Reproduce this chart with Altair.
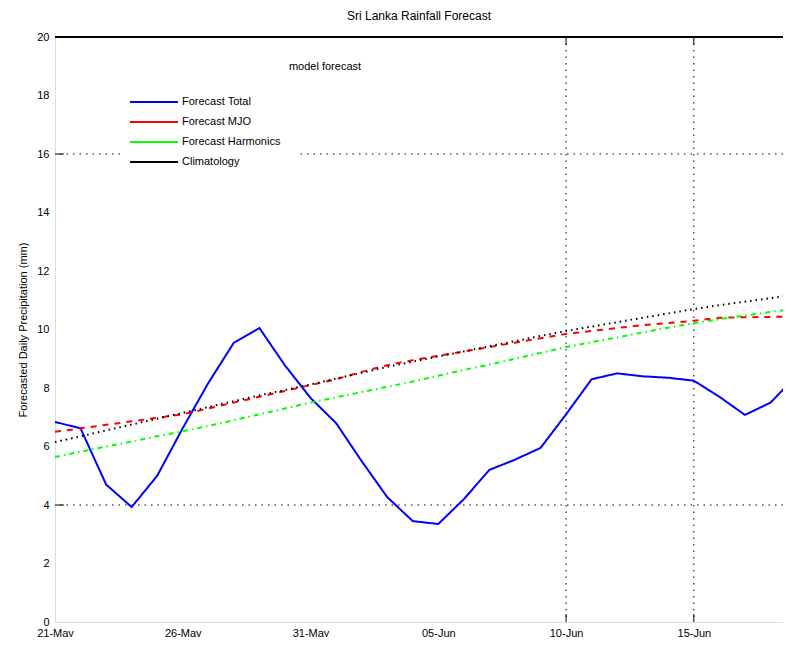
import altair as alt
import pandas as pd

# ---- data ----
dates = pd.date_range("2015-05-21", periods=30).strftime("%Y-%m-%d").tolist()

forecast_total = [6.84, 6.62, 4.70, 3.93, 5.00, 6.63, 8.17, 9.55, 10.05, 8.77,
                  7.66, 6.80, 5.50, 4.27, 3.45, 3.35, 4.20, 5.20, 5.55, 5.95,
                  7.10, 8.30, 8.50, 8.40, 8.35, 8.25, 7.70, 7.08, 7.50, 8.40]
forecast_mjo = [6.50, 6.62, 6.74, 6.86, 6.98, 7.10, 7.30, 7.50, 7.70, 7.90,
                8.10, 8.30, 8.55, 8.78, 8.95, 9.10, 9.25, 9.40, 9.55, 9.70,
                9.85, 9.95, 10.05, 10.15, 10.22, 10.30, 10.40, 10.42, 10.43, 10.45]
forecast_harm = [5.64, 5.82, 6.00, 6.17, 6.35, 6.52, 6.70, 6.90, 7.10, 7.30,
                 7.50, 7.68, 7.86, 8.04, 8.22, 8.42, 8.62, 8.80, 9.00, 9.20,
                 9.40, 9.57, 9.73, 9.90, 10.06, 10.22, 10.35, 10.48, 10.60, 10.72]
climatology = [6.15, 6.35, 6.55, 6.75, 6.95, 7.15, 7.35, 7.55, 7.75, 7.93,
               8.12, 8.32, 8.52, 8.72, 8.90, 9.08, 9.25, 9.43, 9.60, 9.78,
               9.95, 10.10, 10.25, 10.40, 10.55, 10.70, 10.83, 10.95, 11.07, 11.20]

series_names = ["Forecast Total", "Forecast MJO", "Forecast Harmonics", "Climatology"]
series_colors = ["#0000ff", "#ff0000", "#00ff00", "#000000"]
series_dashes = [[1, 0], [6, 6], [5, 4, 1.5, 4], [1.5, 4]]

y_ticks = [0, 2, 4, 6, 8, 10, 12, 14, 16, 18, 20]
x_tick_dates = ["2015-05-21", "2015-05-26", "2015-05-31", "2015-06-05", "2015-06-10", "2015-06-15"]
hgrid_values = [4, 16]
vgrid_dates = ["2015-06-10", "2015-06-15"]
top_value = [20]

FONT = "Liberation Sans"
W, H = 728, 585

rows = []
for name, vals in zip(series_names, [forecast_total, forecast_mjo, forecast_harm, climatology]):
    for d, v in zip(dates, vals):
        rows.append({"date": d, "value": v, "series": name})
df = pd.DataFrame(rows)

x_scale = alt.Scale(
    type="utc",
    domain=[alt.DateTime(year=2015, month=5, date=21, utc=True),
            alt.DateTime(year=2015, month=6, date=18, hours=11, minutes=45, utc=True)],
    nice=False,
)
y_scale = alt.Scale(domain=[0, 20], nice=False, zero=False)
color_scale = alt.Scale(domain=series_names, range=series_colors)
dash_scale = alt.Scale(domain=series_names, range=series_dashes)

lines = alt.Chart(df).mark_line(strokeWidth=2, clip=True).encode(
    x=alt.X("date:T", scale=x_scale,
            axis=alt.Axis(values=[alt.DateTime(year=int(d[:4]), month=int(d[5:7]), date=int(d[8:]), utc=True)
                                  for d in x_tick_dates],
                          labelExpr="utcFormat(datum.value, '%d-%b')",
                          title=None, grid=False, domain=False, tickSize=0,
                          labelFontSize=11, labelPadding=5, labelColor="black",
                          labelFont=FONT, labelFlush=False)),
    y=alt.Y("value:Q", scale=y_scale,
            axis=alt.Axis(values=y_ticks, title="Forecasted Daily Precipitation (mm)",
                          grid=False, domain=False, tickSize=0, labelFontSize=11,
                          labelPadding=6, labelColor="black", labelFont=FONT,
                          titleFont=FONT, titleFontSize=11, titleFontWeight="normal",
                          titleColor="black", titleX=-27, titleY=H / 2)),
    color=alt.Color("series:N", scale=color_scale, legend=None),
    strokeDash=alt.StrokeDash("series:N", scale=dash_scale, legend=None),
    order=alt.Order("series:N"),
)

hgrid = alt.Chart(pd.DataFrame({"v": hgrid_values})).mark_rule(
    color="black", strokeWidth=1, strokeDash=[1.5, 5]
).encode(y=alt.Y("v:Q", scale=y_scale))

left_ticks = alt.Chart(pd.DataFrame({"v": hgrid_values})).mark_rule(
    color="black", strokeWidth=1
).encode(y=alt.Y("v:Q", scale=y_scale), x=alt.value(0), x2=alt.value(9))

vgrid = alt.Chart(pd.DataFrame({"d": vgrid_dates})).mark_rule(
    color="black", strokeWidth=1, strokeDash=[1.5, 5]
).encode(x=alt.X("d:T", scale=x_scale))

top_ticks = alt.Chart(pd.DataFrame({"d": vgrid_dates})).mark_rule(
    color="black", strokeWidth=1
).encode(x=alt.X("d:T", scale=x_scale), y=alt.value(0), y2=alt.value(8))

bottom_ticks = alt.Chart(pd.DataFrame({"d": vgrid_dates})).mark_rule(
    color="black", strokeWidth=1
).encode(x=alt.X("d:T", scale=x_scale), y=alt.value(H - 8), y2=alt.value(H))

top_line = alt.Chart(pd.DataFrame({"v": top_value})).mark_rule(
    color="black", strokeWidth=2
).encode(y=alt.Y("v:Q", scale=y_scale))

main = alt.layer(hgrid, vgrid, left_ticks, top_ticks, bottom_ticks, top_line, lines)

# ---- manual legend ----
legend_df = pd.DataFrame({"series": series_names})
leg_y = alt.Y("series:N", scale=alt.Scale(type="point", domain=series_names, range=[65, 125], padding=0),
              axis=None)

legend_box = alt.Chart(pd.DataFrame({"k": [0]})).mark_rect(fill="white", stroke=None).encode(
    x=alt.value(65), x2=alt.value(245), y=alt.value(53), y2=alt.value(135)
)
legend_lines = alt.Chart(legend_df).mark_rule(strokeWidth=2).encode(
    x=alt.value(75), x2=alt.value(123), y=leg_y,
    color=alt.Color("series:N", scale=color_scale, legend=None),
)
legend_text = alt.Chart(legend_df).mark_text(
    align="left", baseline="middle", fontSize=11, font=FONT, color="black"
).encode(x=alt.value(127), y=leg_y, text="series:N")
legend_title = alt.Chart(pd.DataFrame({"t": ["model forecast"]})).mark_text(
    align="center", baseline="middle", fontSize=11, font=FONT, color="black"
).encode(x=alt.value(270), y=alt.value(30), text="t:N")

legend = alt.layer(legend_box, legend_lines, legend_text, legend_title)

chart = alt.layer(main, legend).resolve_scale(y="independent").properties(
    width=W, height=H,
    title=alt.TitleParams("Sri Lanka Rainfall Forecast", fontSize=12, fontWeight="normal",
                          font=FONT, color="black", anchor="middle", offset=8),
    padding={"left": 47, "top": 29, "right": 0, "bottom": 15},
    autosize=alt.AutoSizeParams(type="none"),
).configure_view(stroke=None).configure(font=FONT, background="white")

chart.save("out.html", embed_options={"renderer": "svg", "actions": False})
